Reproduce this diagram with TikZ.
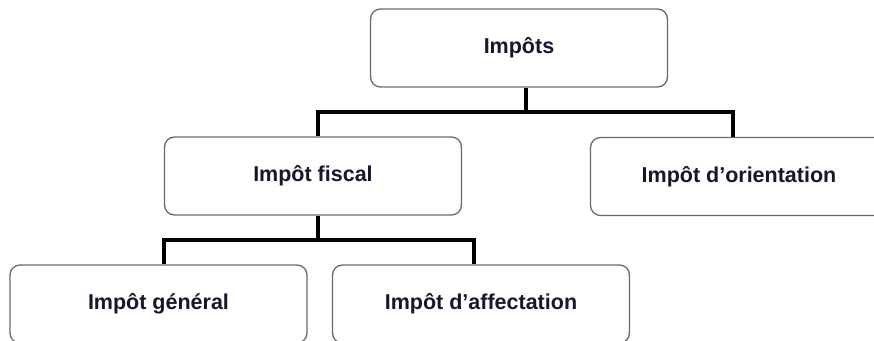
\documentclass[tikz,border=0pt]{standalone}
\usepackage{fontspec}
\setmainfont{Liberation Sans}
\definecolor{boxline}{HTML}{6A6A6A}
\definecolor{txt}{HTML}{16162C}
\begin{document}
\begin{tikzpicture}[x=1pt,y=1pt,
  box/.style={draw=boxline, line width=1.3pt, rounded corners=10pt, fill=white,
    minimum width=297pt, minimum height=78pt, inner sep=0pt,
    font=\fontsize{21.5}{26}\selectfont\bfseries, text=txt},
  conn/.style={draw=black, line width=3.3pt}]
\useasboundingbox (0,0) rectangle (874,340);
\clip (0,0) rectangle (874,340);
\fill[white] (0,0) rectangle (874,340);
\node[box] (top) at (519,292) {Impôts};
\node[box] (fiscal) at (313,164) {Impôt fiscal};
\node[box] (orient) at (739,163.5) {Impôt d’orientation};
\node[box] (gen) at (158.5,36) {Impôt général};
\node[box] (aff) at (481,36) {Impôt d’affectation};
\coordinate (bus1) at (526,228);
\coordinate (bus2) at (318,100);
\draw[conn] ([xshift=7]top.south) -- (bus1);
\draw[conn] ([xshift=5]fiscal.north) |- (bus1) -| ([xshift=-6]orient.north);
\draw[conn] ([xshift=5]fiscal.south) -- (bus2);
\draw[conn] ([xshift=5.5]gen.north) |- (bus2) -| ([xshift=-7]aff.north);
\end{tikzpicture}
\end{document}
